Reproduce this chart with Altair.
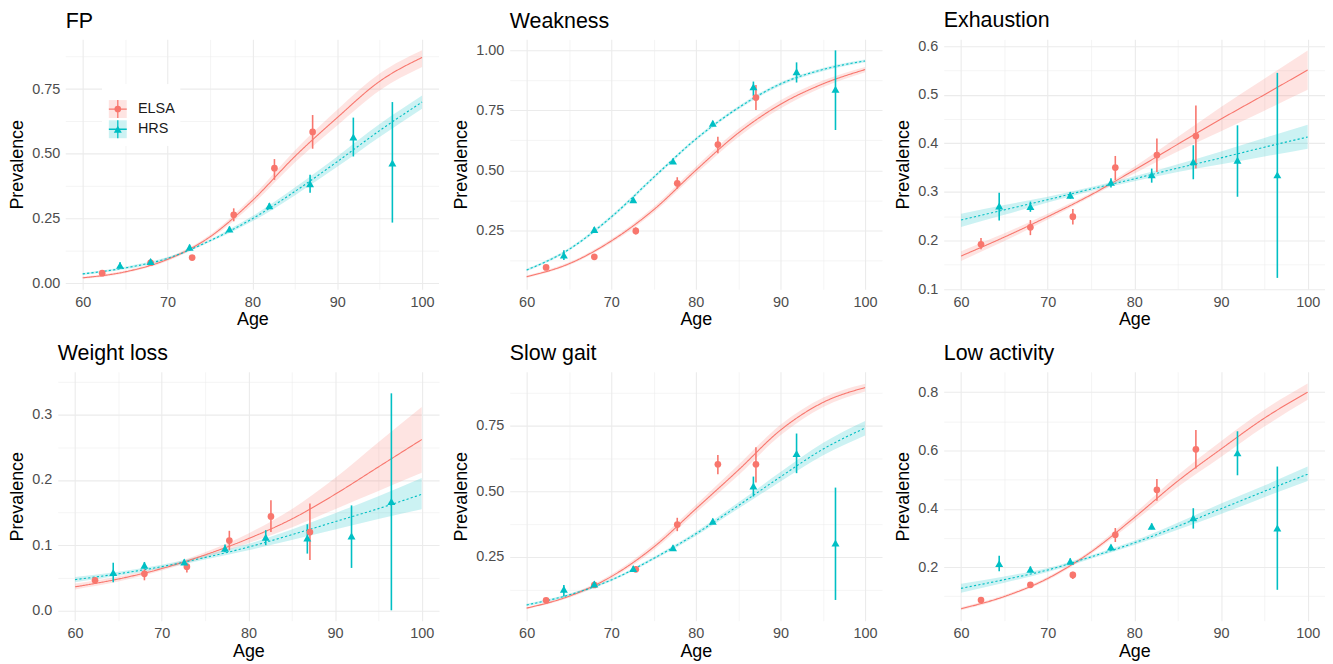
import altair as alt
import pandas as pd

FONT = "Liberation Sans"
STUDIES = ["ELSA", "HRS"]
COLORS = ["#F8766D", "#00BFC4"]
SHAPES = ["circle", "triangle-up"]
SIZES = [45, 64]
GRID = "#EBEBEB"

FIT_AGES = [60, 65, 70, 75, 80, 85, 90, 95, 100]
ELSA_AGES = [62.3, 68.0, 72.9, 77.8, 82.6, 87.1]
HRS_AGES = [64.4, 68.0, 72.6, 77.3, 82.0, 86.8, 91.9, 96.5]
AGE_MAJOR = [60, 70, 80, 90, 100]
AGE_MINOR = [65, 75, 85, 95]

# ---------------- FP ----------------
FP_ELSA_FIT = [0.022, 0.045, 0.093, 0.18, 0.32, 0.49, 0.64, 0.78, 0.872]
FP_ELSA_LO = [0.018, 0.040, 0.087, 0.172, 0.305, 0.467, 0.61, 0.745, 0.835]
FP_ELSA_HI = [0.026, 0.050, 0.099, 0.188, 0.335, 0.513, 0.67, 0.81, 0.90]
FP_HRS_FIT = [0.037, 0.06, 0.097, 0.165, 0.25, 0.355, 0.47, 0.59, 0.70]
FP_HRS_LO = [0.033, 0.055, 0.092, 0.160, 0.24, 0.34, 0.45, 0.565, 0.674]
FP_HRS_HI = [0.041, 0.065, 0.102, 0.170, 0.26, 0.37, 0.49, 0.615, 0.725]
FP_ELSA_PT = [0.04, 0.08, 0.10, 0.265, 0.445, 0.585]
FP_ELSA_PLO = [0.032, 0.071, 0.091, 0.24, 0.40, 0.52]
FP_ELSA_PHI = [0.048, 0.089, 0.109, 0.29, 0.48, 0.65]
FP_HRS_PT = [0.07, 0.085, 0.14, 0.21, 0.30, 0.385, 0.565, 0.465]
FP_HRS_PLO = [0.058, 0.075, 0.13, 0.20, 0.29, 0.35, 0.49, 0.235]
FP_HRS_PHI = [0.082, 0.095, 0.15, 0.22, 0.31, 0.42, 0.64, 0.70]
FP_Y_MAJOR = [0.0, 0.25, 0.5, 0.75]
FP_Y_MINOR = [0.125, 0.375, 0.625, 0.875]

# ---------------- Weakness ----------------
WK_ELSA_FIT = [0.056, 0.11, 0.205, 0.335, 0.50, 0.655, 0.775, 0.86, 0.92]
WK_ELSA_LO = [0.051, 0.104, 0.197, 0.323, 0.485, 0.638, 0.758, 0.846, 0.909]
WK_ELSA_HI = [0.061, 0.116, 0.213, 0.347, 0.515, 0.672, 0.792, 0.874, 0.931]
WK_HRS_FIT = [0.084, 0.17, 0.305, 0.47, 0.63, 0.76, 0.86, 0.92, 0.956]
WK_HRS_LO = [0.079, 0.164, 0.298, 0.463, 0.623, 0.753, 0.853, 0.913, 0.95]
WK_HRS_HI = [0.089, 0.176, 0.312, 0.477, 0.637, 0.767, 0.867, 0.927, 0.962]
WK_ELSA_PT = [0.095, 0.139, 0.247, 0.446, 0.607, 0.803]
WK_ELSA_PLO = [0.087, 0.13, 0.232, 0.423, 0.571, 0.751]
WK_ELSA_PHI = [0.103, 0.148, 0.262, 0.471, 0.64, 0.856]
WK_HRS_PT = [0.146, 0.253, 0.377, 0.538, 0.696, 0.848, 0.911, 0.838]
WK_HRS_PLO = [0.126, 0.243, 0.367, 0.528, 0.686, 0.81, 0.866, 0.668]
WK_HRS_PHI = [0.166, 0.263, 0.387, 0.548, 0.706, 0.87, 0.95, 1.0]
WK_Y_MAJOR = [0.25, 0.5, 0.75, 1.0]
WK_Y_MINOR = [0.125, 0.375, 0.625, 0.875]

# ---------------- Exhaustion ----------------
EX_ELSA_FIT = [0.168, 0.207, 0.249, 0.294, 0.345, 0.398, 0.45, 0.50, 0.551]
EX_ELSA_LO = [0.158, 0.199, 0.243, 0.290, 0.338, 0.383, 0.425, 0.467, 0.51]
EX_ELSA_HI = [0.178, 0.215, 0.255, 0.298, 0.352, 0.413, 0.475, 0.533, 0.591]
EX_HRS_FIT = [0.242, 0.263, 0.284, 0.306, 0.327, 0.349, 0.37, 0.392, 0.413]
EX_HRS_LO = [0.228, 0.253, 0.278, 0.302, 0.322, 0.341, 0.357, 0.373, 0.389]
EX_HRS_HI = [0.255, 0.273, 0.290, 0.310, 0.332, 0.357, 0.383, 0.411, 0.438]
EX_ELSA_PT = [0.192, 0.227, 0.249, 0.35, 0.376, 0.415]
EX_ELSA_PLO = [0.182, 0.211, 0.233, 0.324, 0.341, 0.348]
EX_ELSA_PHI = [0.205, 0.242, 0.265, 0.374, 0.41, 0.478]
EX_HRS_PT = [0.271, 0.27, 0.293, 0.32, 0.335, 0.362, 0.365, 0.335]
EX_HRS_PLO = [0.241, 0.259, 0.286, 0.309, 0.319, 0.326, 0.29, 0.123]
EX_HRS_PHI = [0.298, 0.28, 0.30, 0.328, 0.348, 0.396, 0.437, 0.545]
EX_Y_MAJOR = [0.1, 0.2, 0.3, 0.4, 0.5, 0.6]
EX_Y_MINOR = [0.15, 0.25, 0.35, 0.45, 0.55]

# ---------------- Weight loss ----------------
WL_ELSA_FIT = [0.036, 0.048, 0.064, 0.085, 0.11, 0.14, 0.178, 0.22, 0.262]
WL_ELSA_LO = [0.032, 0.044, 0.061, 0.081, 0.103, 0.127, 0.155, 0.183, 0.211]
WL_ELSA_HI = [0.041, 0.052, 0.067, 0.089, 0.118, 0.155, 0.203, 0.258, 0.312]
WL_HRS_FIT = [0.047, 0.056, 0.067, 0.081, 0.097, 0.116, 0.136, 0.156, 0.178]
WL_HRS_LO = [0.043, 0.053, 0.064, 0.078, 0.092, 0.108, 0.124, 0.14, 0.155]
WL_HRS_HI = [0.051, 0.059, 0.070, 0.085, 0.102, 0.124, 0.149, 0.175, 0.203]
WL_ELSA_PT = [0.046, 0.056, 0.067, 0.107, 0.144, 0.12]
WL_ELSA_PLO = [0.042, 0.046, 0.058, 0.092, 0.12, 0.077]
WL_ELSA_PHI = [0.050, 0.063, 0.073, 0.122, 0.169, 0.164]
WL_HRS_PT = [0.058, 0.069, 0.074, 0.095, 0.112, 0.111, 0.114, 0.167]
WL_HRS_PLO = [0.043, 0.064, 0.070, 0.089, 0.100, 0.087, 0.065, 0.0]
WL_HRS_PHI = [0.073, 0.074, 0.078, 0.101, 0.123, 0.132, 0.161, 0.333]
WL_Y_MAJOR = [0.0, 0.1, 0.2, 0.3]
WL_Y_MINOR = [0.05, 0.15, 0.25, 0.35]

# ---------------- Slow gait ----------------
SG_ELSA_FIT = [0.055, 0.10, 0.175, 0.287, 0.433, 0.58, 0.733, 0.838, 0.895]
SG_ELSA_LO = [0.051, 0.094, 0.167, 0.275, 0.418, 0.56, 0.713, 0.82, 0.88]
SG_ELSA_HI = [0.059, 0.106, 0.183, 0.299, 0.448, 0.60, 0.753, 0.856, 0.91]
SG_HRS_FIT = [0.067, 0.105, 0.162, 0.244, 0.338, 0.445, 0.555, 0.66, 0.741]
SG_HRS_LO = [0.062, 0.100, 0.157, 0.238, 0.33, 0.433, 0.537, 0.636, 0.712]
SG_HRS_HI = [0.072, 0.110, 0.167, 0.25, 0.346, 0.457, 0.573, 0.684, 0.768]
SG_ELSA_PT = [0.085, 0.143, 0.203, 0.373, 0.603, 0.603]
SG_ELSA_PLO = [0.078, 0.135, 0.191, 0.348, 0.565, 0.533]
SG_ELSA_PHI = [0.092, 0.151, 0.215, 0.399, 0.638, 0.668]
SG_HRS_PT = [0.127, 0.147, 0.206, 0.285, 0.386, 0.52, 0.644, 0.303]
SG_HRS_PLO = [0.099, 0.137, 0.198, 0.277, 0.376, 0.48, 0.569, 0.086]
SG_HRS_PHI = [0.143, 0.157, 0.214, 0.293, 0.396, 0.556, 0.72, 0.514]
SG_Y_MAJOR = [0.25, 0.5, 0.75]
SG_Y_MINOR = [0.125, 0.375, 0.625, 0.875]

# ---------------- Low activity ----------------
LA_ELSA_FIT = [0.057, 0.099, 0.161, 0.252, 0.37, 0.495, 0.605, 0.711, 0.80]
LA_ELSA_LO = [0.052, 0.094, 0.155, 0.245, 0.357, 0.475, 0.578, 0.682, 0.774]
LA_ELSA_HI = [0.062, 0.104, 0.167, 0.259, 0.383, 0.515, 0.632, 0.74, 0.83]
LA_HRS_FIT = [0.127, 0.157, 0.19, 0.235, 0.283, 0.34, 0.40, 0.46, 0.519]
LA_HRS_LO = [0.112, 0.146, 0.183, 0.229, 0.276, 0.328, 0.382, 0.44, 0.495]
LA_HRS_HI = [0.143, 0.168, 0.197, 0.241, 0.29, 0.352, 0.418, 0.48, 0.545]
LA_ELSA_PT = [0.087, 0.139, 0.173, 0.311, 0.465, 0.604]
LA_ELSA_PLO = [0.081, 0.131, 0.159, 0.286, 0.428, 0.538]
LA_ELSA_PHI = [0.093, 0.147, 0.184, 0.334, 0.502, 0.67]
LA_HRS_PT = [0.212, 0.192, 0.22, 0.269, 0.34, 0.369, 0.592, 0.334]
LA_HRS_PLO = [0.186, 0.182, 0.21, 0.261, 0.33, 0.332, 0.515, 0.122]
LA_HRS_PHI = [0.239, 0.202, 0.23, 0.277, 0.35, 0.402, 0.666, 0.545]
LA_Y_MAJOR = [0.2, 0.4, 0.6, 0.8]
LA_Y_MINOR = [0.1, 0.3, 0.5, 0.7]

# inset (px) of the FP plot inside its cell, so that the first column
# can hold panels whose y-labels differ in width (as in the original)
FP_INSET = 8

PANELS = [
    dict(title="FP", fit=(FP_ELSA_FIT, FP_ELSA_LO, FP_ELSA_HI, FP_HRS_FIT, FP_HRS_LO, FP_HRS_HI),
         pts=(FP_ELSA_PT, FP_ELSA_PLO, FP_ELSA_PHI, FP_HRS_PT, FP_HRS_PLO, FP_HRS_PHI),
         major=FP_Y_MAJOR, minor=FP_Y_MINOR, dom=[-0.022, 0.942], fmt=".2f", w=383, h=251, inset=FP_INSET),
    dict(title="Weakness", fit=(WK_ELSA_FIT, WK_ELSA_LO, WK_ELSA_HI, WK_HRS_FIT, WK_HRS_LO, WK_HRS_HI),
         pts=(WK_ELSA_PT, WK_ELSA_PLO, WK_ELSA_PHI, WK_HRS_PT, WK_HRS_PLO, WK_HRS_PHI),
         major=WK_Y_MAJOR, minor=WK_Y_MINOR, dom=[0.004, 1.046], fmt=".2f", w=374, h=251, inset=0),
    dict(title="Exhaustion", fit=(EX_ELSA_FIT, EX_ELSA_LO, EX_ELSA_HI, EX_HRS_FIT, EX_HRS_LO, EX_HRS_HI),
         pts=(EX_ELSA_PT, EX_ELSA_PLO, EX_ELSA_PHI, EX_HRS_PT, EX_HRS_PLO, EX_HRS_PHI),
         major=EX_Y_MAJOR, minor=EX_Y_MINOR, dom=[0.0997, 0.614], fmt=".1f", w=383, h=251, inset=0),
    dict(title="Weight loss", fit=(WL_ELSA_FIT, WL_ELSA_LO, WL_ELSA_HI, WL_HRS_FIT, WL_HRS_LO, WL_HRS_HI),
         pts=(WL_ELSA_PT, WL_ELSA_PLO, WL_ELSA_PHI, WL_HRS_PT, WL_HRS_PLO, WL_HRS_PHI),
         major=WL_Y_MAJOR, minor=WL_Y_MINOR, dom=[-0.016, 0.366], fmt=".1f", w=383, h=250, inset=0),
    dict(title="Slow gait", fit=(SG_ELSA_FIT, SG_ELSA_LO, SG_ELSA_HI, SG_HRS_FIT, SG_HRS_LO, SG_HRS_HI),
         pts=(SG_ELSA_PT, SG_ELSA_PLO, SG_ELSA_PHI, SG_HRS_PT, SG_HRS_PLO, SG_HRS_PHI),
         major=SG_Y_MAJOR, minor=SG_Y_MINOR, dom=[0.007, 0.955], fmt=".2f", w=374, h=250, inset=0),
    dict(title="Low activity", fit=(LA_ELSA_FIT, LA_ELSA_LO, LA_ELSA_HI, LA_HRS_FIT, LA_HRS_LO, LA_HRS_HI),
         pts=(LA_ELSA_PT, LA_ELSA_PLO, LA_ELSA_PHI, LA_HRS_PT, LA_HRS_PLO, LA_HRS_PHI),
         major=LA_Y_MAJOR, minor=LA_Y_MINOR, dom=[0.016, 0.870], fmt=".1f", w=383, h=250, inset=0),
]

color_scale = alt.Scale(domain=STUDIES, range=COLORS)
dash_scale = alt.Scale(domain=STUDIES, range=[[1, 0], [2.2, 2.2]])
shape_scale = alt.Scale(domain=STUDIES, range=SHAPES)
size_scale = alt.Scale(domain=STUDIES, range=SIZES)


def cond_width(values, major_w, minor_w):
    test = "indexof([" + ",".join(repr(v) for v in values) + "], datum.value) >= 0"
    return {"condition": {"test": test, "value": major_w}, "value": minor_w}, test


def make_panel(p, legend=False):
    ef, el, eh, hf, hl, hh = p["fit"]
    ep, epl, eph, hp, hpl, hph = p["pts"]
    ins = p["inset"]
    fit_df = pd.DataFrame({
        "Age": FIT_AGES + FIT_AGES,
        "Study": ["ELSA"] * len(FIT_AGES) + ["HRS"] * len(FIT_AGES),
        "fit": ef + hf, "lo": el + hl, "hi": eh + hh,
    })
    pt_df = pd.DataFrame({
        "Age": ELSA_AGES + HRS_AGES,
        "Study": ["ELSA"] * len(ELSA_AGES) + ["HRS"] * len(HRS_AGES),
        "y": ep + hp, "lo": epl + hpl, "hi": eph + hph,
    })

    xgw, _ = cond_width(AGE_MAJOR, 1.1, 0.55)
    x_axis = alt.Axis(values=AGE_MAJOR + AGE_MINOR, title="Age",
                      labelExpr="datum.value % 10 == 0 ? datum.label : ''",
                      gridWidth=xgw, labelOverlap=False, labelFlush=False)
    ygw, ytest = cond_width(p["major"], 1.1, 0.55)
    yaxis_kw = dict(values=sorted(p["major"] + p["minor"]), title="Prevalence",
                    format=p["fmt"], labelExpr=ytest + " ? datum.label : ''",
                    labelOverlap=False, labelFlush=False)
    if ins > 0:
        y_axis = alt.Axis(grid=False, offset=-ins, **yaxis_kw)
    else:
        y_axis = alt.Axis(gridWidth=ygw, **yaxis_kw)
    xs = alt.Scale(domain=[58, 102], nice=False, zero=False, range=[ins, p["w"]])
    ys = alt.Scale(domain=p["dom"], nice=False, zero=False)
    X = alt.X("Age:Q", scale=xs, axis=x_axis)

    band = alt.Chart(fit_df).mark_area(opacity=0.2, interpolate="monotone").encode(
        x=X, y=alt.Y("lo:Q", scale=ys, axis=y_axis), y2="hi:Q",
        color=alt.Color("Study:N", scale=color_scale, legend=None))
    line = alt.Chart(fit_df).mark_line(strokeWidth=1.1, interpolate="monotone").encode(
        x=X, y=alt.Y("fit:Q", scale=ys, axis=y_axis),
        color=alt.Color("Study:N", scale=color_scale, legend=None),
        strokeDash=alt.StrokeDash("Study:N", scale=dash_scale, legend=None))
    rule = alt.Chart(pt_df).mark_rule(strokeWidth=1.6).encode(
        x=X, y=alt.Y("lo:Q", scale=ys, axis=y_axis), y2="hi:Q",
        color=alt.Color("Study:N", scale=color_scale, legend=None))
    pts = alt.Chart(pt_df).mark_point(filled=True, opacity=1).encode(
        x=X, y=alt.Y("y:Q", scale=ys, axis=y_axis),
        color=alt.Color("Study:N", scale=color_scale, legend=None),
        shape=alt.Shape("Study:N", scale=shape_scale, legend=None),
        size=alt.Size("Study:N", scale=size_scale, legend=None))
    layers = [band, line, rule, pts]
    if ins > 0:
        # horizontal grid drawn only across the (inset) plot area
        gmaj = alt.Chart(pd.DataFrame({"g": p["major"]})).mark_rule(color=GRID, strokeWidth=1.1).encode(
            x=alt.value(ins), x2=alt.value(p["w"]), y=alt.Y("g:Q", scale=ys, axis=y_axis))
        gmin = alt.Chart(pd.DataFrame({"g": p["minor"]})).mark_rule(color=GRID, strokeWidth=0.55).encode(
            x=alt.value(ins), x2=alt.value(p["w"]), y=alt.Y("g:Q", scale=ys, axis=y_axis))
        layers = [gmin, gmaj] + layers
    main = alt.layer(*layers)

    if legend:
        leg_df = pd.DataFrame({"Study": STUDIES})
        ly = alt.Y("Study:N", scale=alt.Scale(type="point", domain=STUDIES, range=[70, 90.3], padding=0), axis=None)
        kx = ins + 52.3
        bg = alt.Chart(leg_df).mark_rect(color="white").encode(
            x=alt.value(ins + 36.5), x2=alt.value(ins + 115), y=alt.value(45), y2=alt.value(107))
        key = alt.Chart(leg_df).mark_square(size=324, opacity=0.2).encode(
            x=alt.value(kx), y=ly, color=alt.Color("Study:N", scale=color_scale, legend=None))
        cross = alt.Chart(leg_df).mark_point(shape="M-1,0L1,0M0,-1L0,1", filled=False, size=324,
                                             strokeWidth=1.3, opacity=1).encode(
            x=alt.value(kx), y=ly, color=alt.Color("Study:N", scale=color_scale, legend=None))
        sym = alt.Chart(leg_df).mark_point(filled=True, opacity=1).encode(
            x=alt.value(kx), y=ly, color=alt.Color("Study:N", scale=color_scale, legend=None),
            shape=alt.Shape("Study:N", scale=shape_scale, legend=None),
            size=alt.Size("Study:N", scale=size_scale, legend=None))
        txt = alt.Chart(leg_df).mark_text(align="left", baseline="middle", font=FONT, fontSize=14.5,
                                          color="#1A1A1A").encode(
            x=alt.value(ins + 72.5), y=ly, text="Study:N")
        leg = alt.layer(bg, key, cross, sym, txt)
        out = alt.layer(main, leg).resolve_scale(y="independent")
    else:
        out = main
    return out.properties(width=p["w"], height=p["h"],
                          title=alt.TitleParams(p["title"], anchor="start", frame="group", dx=ins))


panels = [make_panel(p, legend=(i == 0)) for i, p in enumerate(PANELS)]

chart = alt.concat(*panels, columns=3, align="none", spacing={"row": 14, "column": 12}).properties(
    padding=0, background="white"
).configure_view(
    stroke=None
).configure_axis(
    domain=False, ticks=False, tickSize=0, gridColor=GRID,
    labelFont=FONT, labelFontSize=14.5, labelColor="#4D4D4D",
    titleFont=FONT, titleFontSize=18, titleFontWeight="normal", titleColor="#000000"
).configure_axisY(
    labelPadding=6, titlePadding=5
).configure_axisX(
    labelPadding=6, titlePadding=2
).configure_title(
    font=FONT, fontSize=21.5, fontWeight="normal", color="#000000", offset=7
)

chart.save("out.html", embed_options={"renderer": "svg", "actions": False})
